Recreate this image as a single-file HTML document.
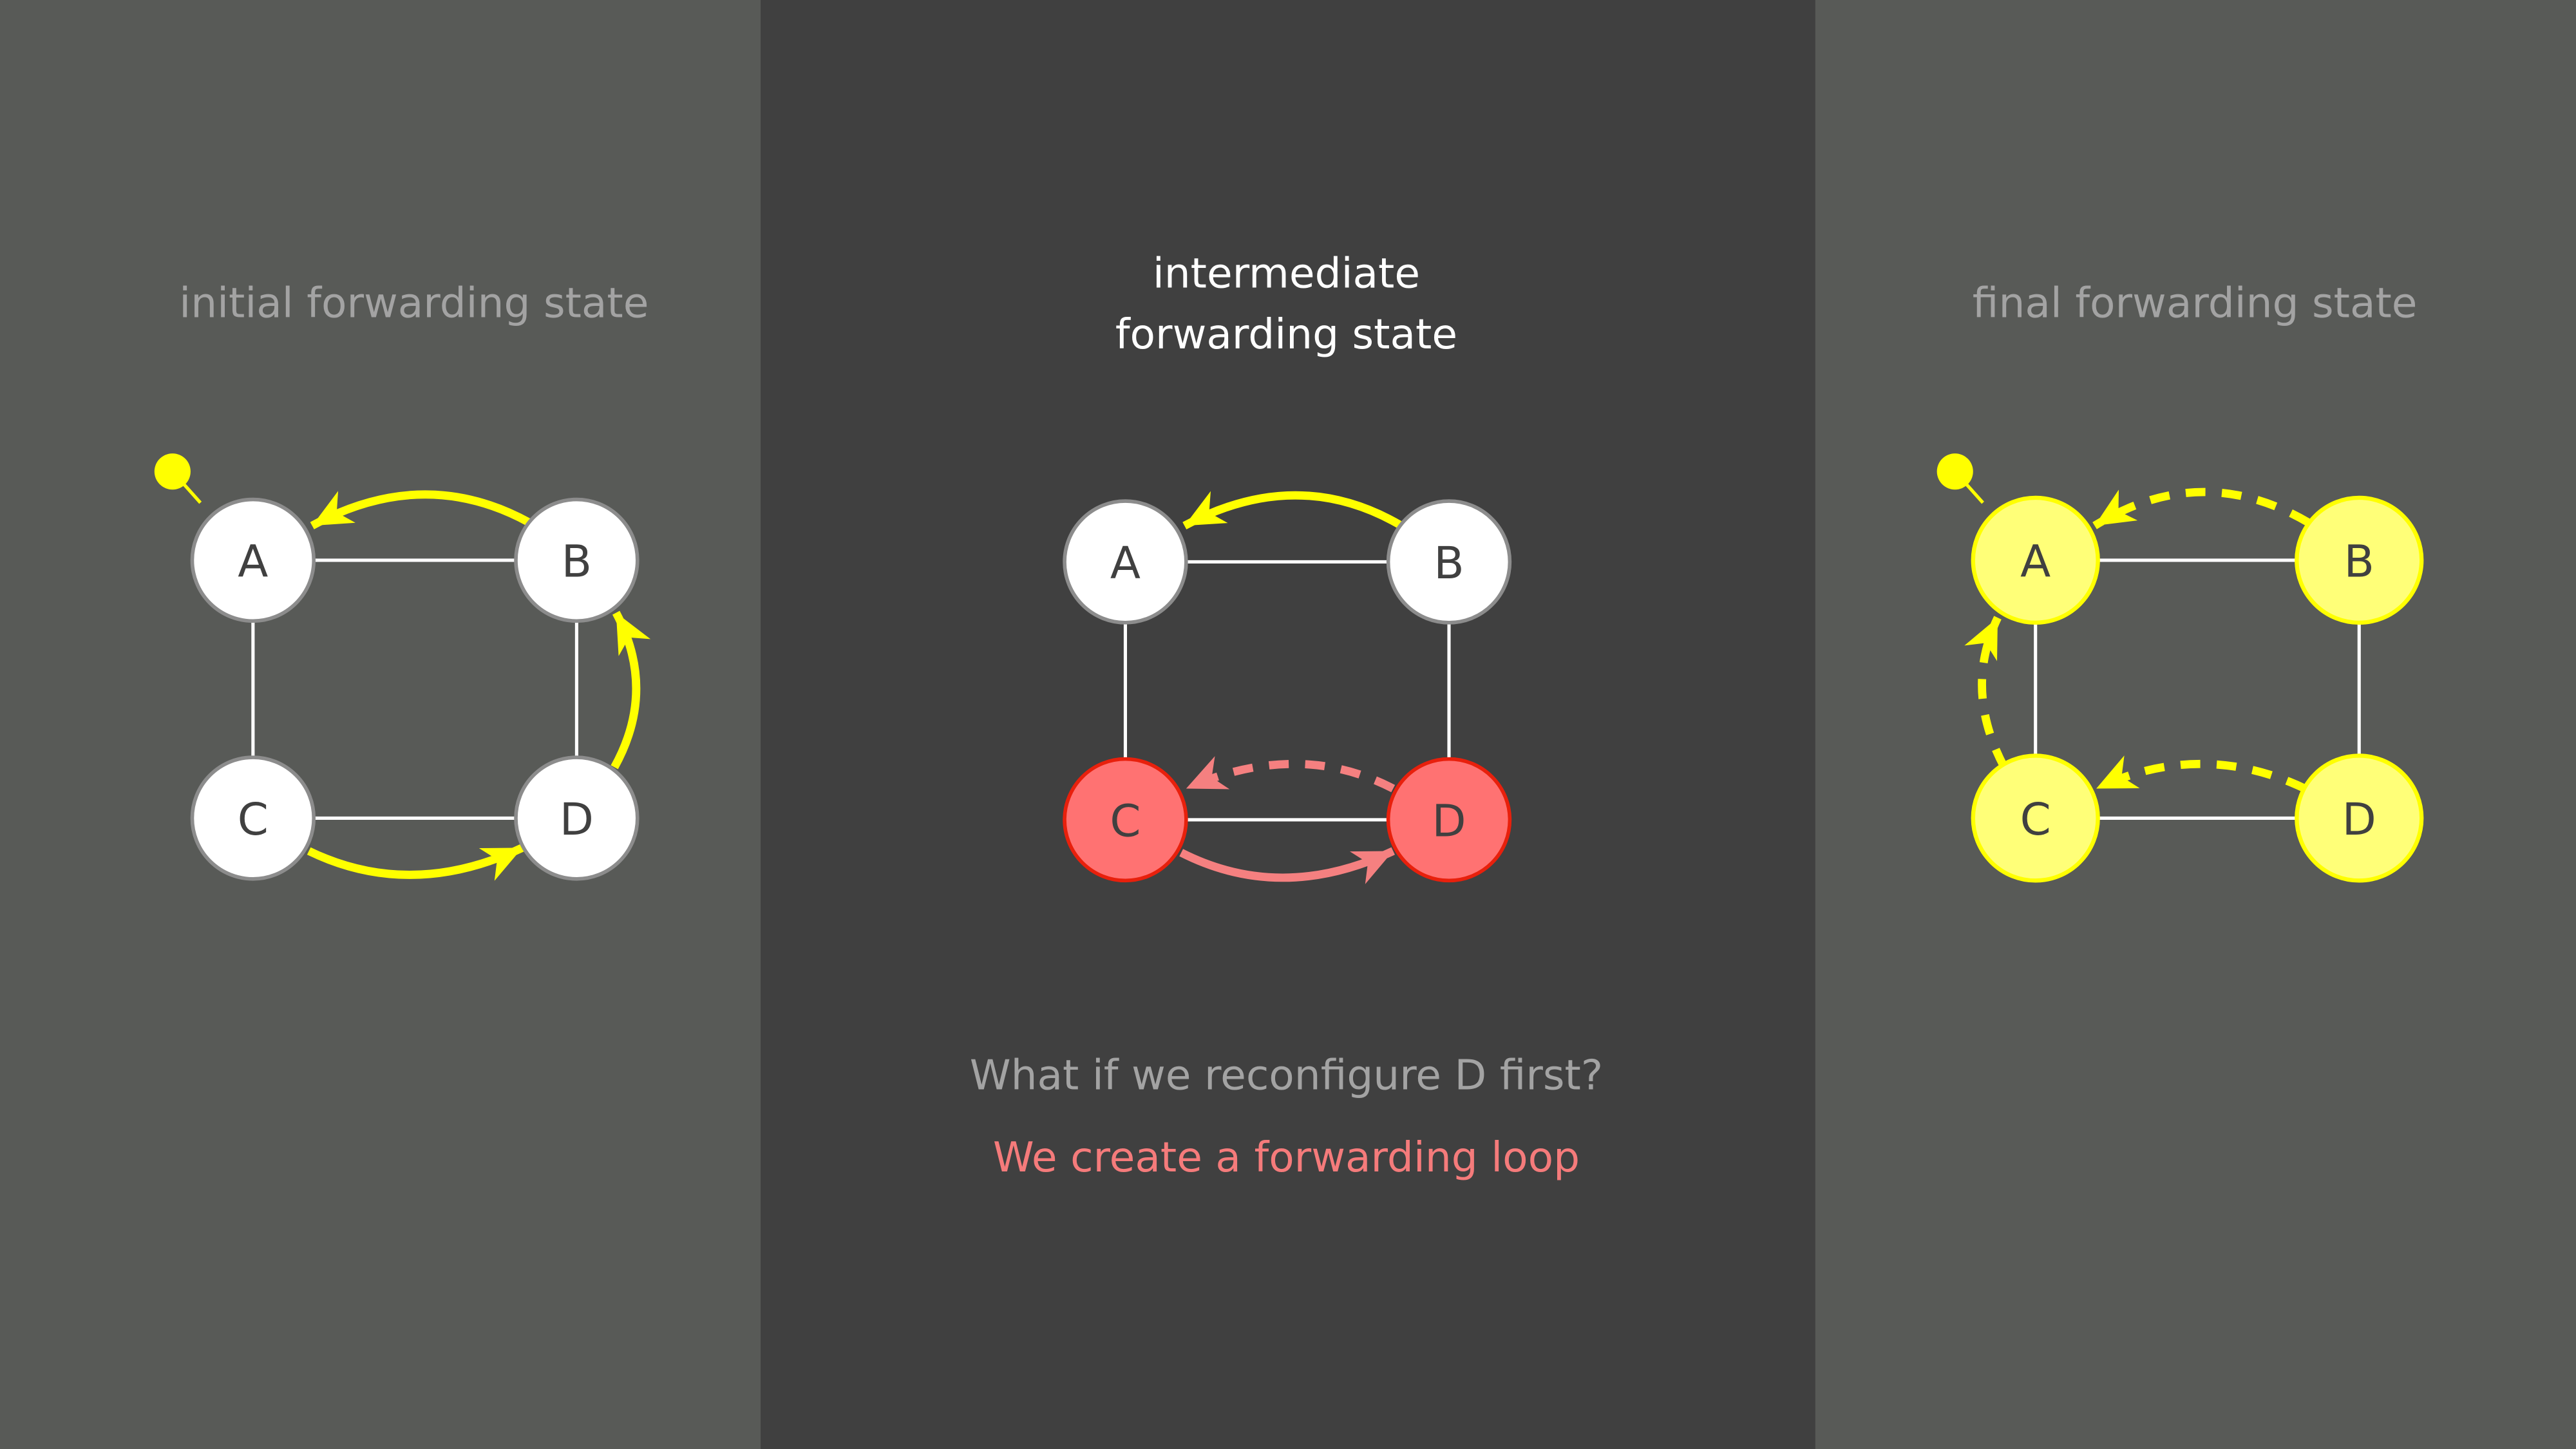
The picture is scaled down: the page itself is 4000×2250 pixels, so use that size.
<!DOCTYPE html>
<html><head><meta charset="utf-8"><style>
html,body{margin:0;padding:0;width:4000px;height:2250px;overflow:hidden;background:#585a57}
svg{display:block}
</style></head><body>
<svg width="4000" height="2250" viewBox="0 0 1568 882" xmlns="http://www.w3.org/2000/svg" font-family="'DejaVu Sans','Liberation Sans',sans-serif">
<defs>
<marker id="my" markerUnits="userSpaceOnUse" markerWidth="26" markerHeight="24" refX="24" refY="11" orient="auto" viewBox="0 0 26 24"><path d="M0,0 L24,11 L0,22 L7,11 z" fill="#ffff00"/></marker>
<marker id="mr" markerUnits="userSpaceOnUse" markerWidth="26" markerHeight="24" refX="24" refY="11" orient="auto" viewBox="0 0 26 24"><path d="M0,0 L24,11 L0,22 L7,11 z" fill="#f58080"/></marker>
</defs>
<rect x="0" y="0" width="463" height="882" fill="#585a57"/>
<rect x="463" y="0" width="642" height="882" fill="#404040"/>
<rect x="1105" y="0" width="463" height="882" fill="#585a57"/>

<g font-size="25.3" text-anchor="middle">
<text x="252" y="193" fill="#a3a3a3">initial forwarding state</text>
<text x="783" y="175" fill="#ffffff">intermediate</text>
<text x="783" y="212" fill="#ffffff">forwarding state</text>
<text x="1336" y="193" fill="#a3a3a3">final forwarding state</text>
<text x="783" y="663" fill="#a3a3a3">What if we reconfigure D first?</text>
<text x="783" y="713" fill="#f57b7b">We create a forwarding loop</text>
</g>

<g stroke="#ffffff" stroke-width="2" fill="none">
<path d="M154,341 H351 M154,341 V498 M154,498 H351 M351,341 V498"/>
<path d="M685,342 H882 M685,342 V499 M685,499 H882 M882,342 V499"/>
<path d="M1239,341 H1436 M1239,341 V498 M1239,498 H1436 M1436,341 V498"/>
</g>

<line x1="105" y1="287" x2="122" y2="306" stroke="#ffff00" stroke-width="2"/>
<circle cx="105" cy="287" r="11" fill="#ffff00"/>
<line x1="1190" y1="287" x2="1207" y2="306" stroke="#ffff00" stroke-width="2"/>
<circle cx="1190" cy="287" r="11" fill="#ffff00"/>

<g fill="none" stroke-width="5">
<path d="M322,318 Q258,283 190,320" stroke="#ffff00" marker-end="url(#my)"/>
<path d="M374,467 Q400,420 375,373" stroke="#ffff00" marker-end="url(#my)"/>
<path d="M188,518 Q250,548 318,516" stroke="#ffff00" marker-end="url(#my)"/>

<path d="M853,320 Q790,283 721,320" stroke="#ffff00" marker-end="url(#my)"/>
<path d="M848,480 Q790,450 722,480" stroke="#f58080" stroke-dasharray="12,10" marker-end="url(#mr)"/>
<path d="M719,519 Q780,550 848,518" stroke="#f58080" marker-end="url(#mr)"/>

<path d="M1405,318 Q1340,280 1275,320" stroke="#ffff00" stroke-dasharray="12,10" marker-end="url(#my)"/>
<path d="M1403,480 Q1340,450 1276,480" stroke="#ffff00" stroke-dasharray="12,10" marker-end="url(#my)"/>
<path d="M1220,467 Q1195,420 1216,376" stroke="#ffff00" stroke-dasharray="12,10" marker-end="url(#my)"/>
</g>

<g stroke-width="2.2">
<circle cx="154" cy="341" r="37" fill="#fff" stroke="#8c8c8c"/>
<circle cx="351" cy="341" r="37" fill="#fff" stroke="#8c8c8c"/>
<circle cx="154" cy="498" r="37" fill="#fff" stroke="#8c8c8c"/>
<circle cx="351" cy="498" r="37" fill="#fff" stroke="#8c8c8c"/>
<circle cx="685" cy="342" r="37" fill="#fff" stroke="#8c8c8c"/>
<circle cx="882" cy="342" r="37" fill="#fff" stroke="#8c8c8c"/>
<circle cx="685" cy="499" r="37" fill="#ff7272" stroke="#e8200c"/>
<circle cx="882" cy="499" r="37" fill="#ff7272" stroke="#e8200c"/>
<circle cx="1239" cy="341" r="38" fill="#ffff78" stroke="#ffff00" stroke-width="2.5"/>
<circle cx="1436" cy="341" r="38" fill="#ffff78" stroke="#ffff00" stroke-width="2.5"/>
<circle cx="1239" cy="498" r="38" fill="#ffff78" stroke="#ffff00" stroke-width="2.5"/>
<circle cx="1436" cy="498" r="38" fill="#ffff78" stroke="#ffff00" stroke-width="2.5"/>
</g>

<g font-size="27" text-anchor="middle" fill="#404040">
<text x="154" y="351">A</text><text x="351" y="351">B</text>
<text x="154" y="508">C</text><text x="351" y="508">D</text>
<text x="685" y="352">A</text><text x="882" y="352">B</text>
<text x="685" y="509">C</text><text x="882" y="509">D</text>
<text x="1239" y="351">A</text><text x="1436" y="351">B</text>
<text x="1239" y="508">C</text><text x="1436" y="508">D</text>
</g>
</svg>
</body></html>
